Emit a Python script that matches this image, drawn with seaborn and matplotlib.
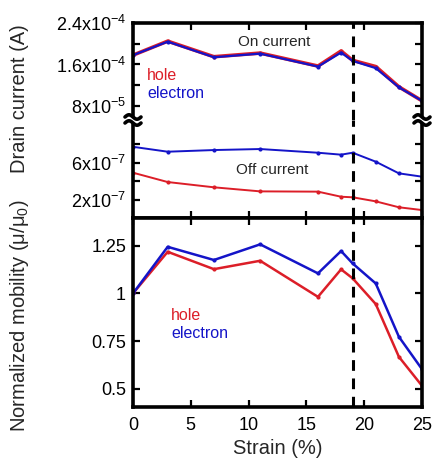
import numpy as np
import pandas as pd
import matplotlib
matplotlib.use("Agg")
import matplotlib.pyplot as plt
import seaborn as sns
from matplotlib.lines import Line2D
from matplotlib.patches import Polygon

# ---------------- data ----------------
strain = [0, 3, 7, 11, 16, 18, 19, 21, 23, 25]
on_hole = [1.78e-4, 2.05e-4, 1.75e-4, 1.82e-4, 1.57e-4, 1.86e-4, 1.68e-4, 1.56e-4, 1.17e-4, 0.90e-4]
on_electron = [1.78e-4, 2.04e-4, 1.74e-4, 1.81e-4, 1.56e-4, 1.83e-4, 1.67e-4, 1.53e-4, 1.16e-4, 0.90e-4]
off_hole = [4.9e-7, 3.89e-7, 3.32e-7, 2.88e-7, 2.85e-7, 2.30e-7, 2.24e-7, 1.80e-7, 1.16e-7, 0.86e-7]
off_electron = [7.7e-7, 7.17e-7, 7.35e-7, 7.46e-7, 7.06e-7, 6.85e-7, 7.06e-7, 6.09e-7, 4.83e-7, 4.47e-7]
mob_hole = [1.0, 1.218, 1.127, 1.171, 0.982, 1.126, 1.079, 0.944, 0.668, 0.516]
mob_electron = [1.0, 1.244, 1.175, 1.257, 1.105, 1.222, 1.157, 1.052, 0.773, 0.603]
x_ticks = [0, 5, 10, 15, 20, 25]
on_ticks = [8e-5, 1.2e-4, 1.6e-4, 2.0e-4, 2.4e-4]
on_labels = [r"8x10$^{-5}$", "", r"1.6x10$^{-4}$", "", r"2.4x10$^{-4}$"]
off_ticks = [2e-7, 4e-7, 6e-7, 8e-7]
off_labels = [r"2x10$^{-7}$", "", r"6x10$^{-7}$", ""]
mob_ticks = [0.5, 0.75, 1.0, 1.25]
mob_labels = ["0.5", "0.75", "1", "1.25"]
critical_strain = 19

RED = "#dc1e28"
BLUE = "#1414c8"

sns.set_style("ticks")
plt.rcParams['font.family'] = ['Liberation Sans', 'DejaVu Sans']
plt.rcParams['mathtext.fontset'] = 'custom'
plt.rcParams['mathtext.rm'] = 'Liberation Sans'
plt.rcParams['mathtext.it'] = 'Liberation Sans:italic'
plt.rcParams['mathtext.bf'] = 'Liberation Sans:bold'

W, H = 435, 459
fig = plt.figure(figsize=(W / 100, H / 100), dpi=100)

def rect(left, top, right, bottom):
    return [left / W, 1 - bottom / H, (right - left) / W, (bottom - top) / H]

L, R = 133, 422
ax_on = fig.add_axes(rect(L, 23, R, 120))
ax_off = fig.add_axes(rect(L, 120, R, 218))
ax_mob = fig.add_axes(rect(L, 218, R, 407))

df = pd.DataFrame({
    "strain": strain,
    "on_hole": on_hole, "on_electron": on_electron,
    "off_hole": off_hole, "off_electron": off_electron,
    "mob_hole": mob_hole, "mob_electron": mob_electron,
})

def draw(ax, col, color, lw):
    sns.lineplot(data=df, x="strain", y=col, ax=ax, color=color, lw=lw,
                 marker="o", markersize=3, markeredgewidth=0, legend=False)

draw(ax_on, "on_hole", RED, 2.6)
draw(ax_on, "on_electron", BLUE, 1.6)
draw(ax_off, "off_hole", RED, 1.4)
draw(ax_off, "off_electron", BLUE, 1.4)
draw(ax_mob, "mob_hole", RED, 1.8)
draw(ax_mob, "mob_electron", BLUE, 1.8)

for ax in (ax_on, ax_off, ax_mob):
    ax.axvline(critical_strain, color="black", lw=2.2, ls=(0, (3.5, 2.5)), zorder=5)
    ax.set_xlim(0, 25)
    ax.set_xticks(x_ticks)
    ax.set_xlabel("")
    ax.set_ylabel("")
    for s in ax.spines.values():
        s.set_linewidth(2.6)
        s.set_color("black")
    ax.tick_params(direction="in", length=5, width=1.6, top=True, right=True,
                   labelsize=13, colors="black", pad=5)

ax_on.set_ylim(5.3e-5, 2.4e-4)
ax_on.set_yticks(on_ticks)
ax_on.set_yticklabels(on_labels)
ax_on.spines["bottom"].set_visible(False)
ax_on.tick_params(bottom=False, labelbottom=False)

ax_off.set_ylim(0, 1.06e-6)
ax_off.set_yticks(off_ticks)
ax_off.set_yticklabels(off_labels)
ax_off.spines["top"].set_visible(False)
ax_off.tick_params(top=False, labelbottom=False)

ax_mob.set_ylim(0.405, 1.395)
ax_mob.set_yticks(mob_ticks)
ax_mob.set_yticklabels(mob_labels)
ax_mob.set_xticklabels([str(t) for t in x_ticks])
ax_mob.tick_params(axis="x", pad=7)

# annotations
def ftext(x, y, s, **kw):
    fig.text(x / W, 1 - y / H, s, **kw)

ftext(274, 42, "On current", ha="center", va="center", fontsize=11)
ftext(272, 170, "Off current", ha="center", va="center", fontsize=11)
ftext(147, 75, "hole", ha="left", va="center", fontsize=11.5, color=RED)
ftext(147, 94, "electron", ha="left", va="center", fontsize=11.5, color=BLUE)
ftext(171, 315, "hole", ha="left", va="center", fontsize=11.5, color=RED)
ftext(171, 333, "electron", ha="left", va="center", fontsize=11.5, color=BLUE)
ftext(20, 99, "Drain current (A)", ha="center", va="center", rotation=90, fontsize=14.5)
ftext(20, 316, "Normalized mobility (μ/μ$_0$)", ha="center", va="center", rotation=90, fontsize=14.5)
ftext(278, 449, "Strain (%)", ha="center", va="center", fontsize=14.5)

# axis break marks
def fx(x):
    return x / W

def fy(y):
    return 1 - y / H

for cx in (L, R):
    xs = np.linspace(cx - 8, cx + 8, 30)
    wave = 2.2 * np.sin((xs - (cx - 8)) / 16 * 2 * np.pi)
    up = 117.0 - wave
    lo = 123.0 - wave
    poly = np.column_stack([np.concatenate([fx(xs), fx(xs[::-1])]),
                            np.concatenate([fy(up), fy(lo[::-1])])])
    fig.patches.append(Polygon(poly, closed=True, transform=fig.transFigure,
                               facecolor="white", edgecolor="none", zorder=10))
    for yy in (up, lo):
        fig.lines.append(Line2D(fx(xs), fy(yy), transform=fig.transFigure,
                                color="black", lw=2.6, zorder=11))

fig.savefig("out.png", dpi=100)
